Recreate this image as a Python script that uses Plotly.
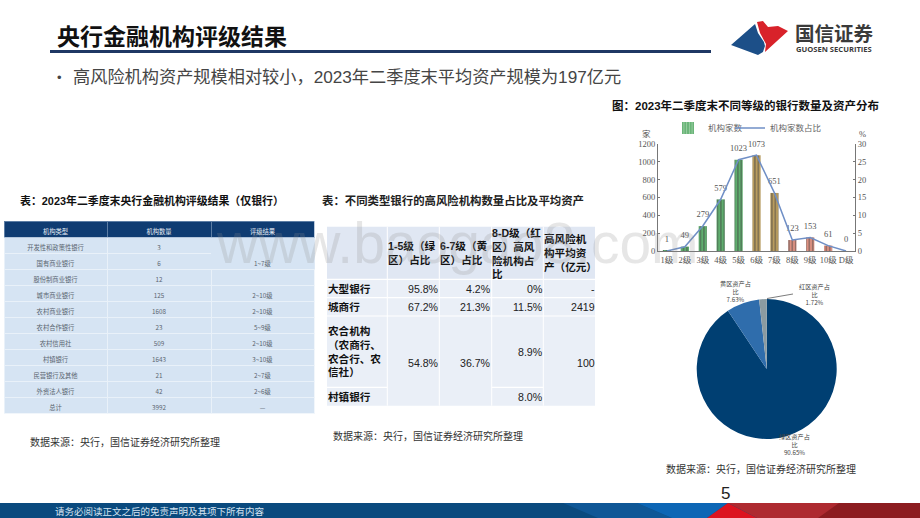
#%% Import libraries needed
import plotly.graph_objects as go

#%% Data
grades = ['1级', '2级', '3级', '4级', '5级', '6级', '7级', '8级', '9级', '10级', 'D级']
bank_counts = [1, 49, 279, 579, 1023, 1073, 651, 123, 153, 61, 0]
bank_share = [0.0, 1.2, 7.0, 14.5, 25.6, 26.9, 16.3, 3.1, 3.8, 1.5, 0.0]
bar_colors = ['#5fae6e'] * 5 + ['#b99c5e'] * 2 + ['#dc9080'] * 4
bar_stripes = ['#d6f0d6'] * 5 + ['#efe0be'] * 2 + ['#f8dcd4'] * 4

pie_labels = ['绿区资产占比', '黄区资产占比', '红区资产占比']
pie_values = [90.65, 7.63, 1.72]
pie_colors = ['#003f72', '#2f6dac', '#8b9ba1']

t1_header = ['机构类型', '机构数量', '评级结果']
t1_types = ['开发性和政策性银行', '国有商业银行', '股份制商业银行', '城市商业银行', '农村商业银行',
            '农村合作银行', '农村信用社', '村镇银行', '民营银行及其他', '外资法人银行', '总计']
t1_counts = [3, 6, 12, 125, 1608, 23, 509, 1643, 21, 42, 3992]
t1_grades = ['', '1~7级', '', '2~10级', '2~10级', '5~9级', '2~10级', '3~10级', '2~7级', '2~6级', '—']

t2_header = ['', '1-5级（绿<br>区）占比', '6-7级（黄<br>区）占比', '8-D级（红<br>区）高风<br>险机构占<br>比',
             '高风险机<br>构平均资<br>产（亿元）']
t2_names = ['大型银行', '城商行', '农合机构<br>（农商行、<br>农合行、农<br>信社）', '村镇银行']
t2_green = ['95.8%', '67.2%', '54.8%']
t2_yellow = ['4.2%', '21.3%', '36.7%']
t2_red = ['0%', '11.5%', '8.9%', '8.0%']
t2_avg = ['-', '2419', '100']
t2_col_edges = [327, 387.3, 439.3, 491.7, 543.3, 595]
t2_row_edges = [226.7, 279.3, 297.7, 316, 387.3, 405.7]

FONT = 'Liberation Sans, Noto Sans CJK SC'
CJK = 'Noto Sans CJK SC'
SERIF = 'Liberation Serif, Noto Sans CJK SC'


def px(x):
    return x / 920


def py(y):
    return 1 - y / 518


def note(x, y, text, size=10, color='#333333', bold=False, anchor='left', family=FONT, **kw):
    if bold:
        text = f'<b>{text}</b>'
    # annotations carry about 2px of padding, take it back
    x = x - 2 if anchor == 'left' else x + 2 if anchor == 'right' else x
    annotations.append(dict(x=px(x), y=py(y), xref='paper', yref='paper', text=text, showarrow=False,
                            xanchor=anchor, yanchor='middle', align=anchor,
                            font=dict(size=size, color=color, family=family), **kw))


def box(x0, y0, x1, y1, color, line=None):
    shapes.append(dict(type='rect', xref='paper', yref='paper', x0=px(x0), x1=px(x1), y0=py(y0), y1=py(y1),
                       fillcolor=color, line=dict(width=0 if line is None else 1, color=line), layer='below'))


def poly(points, color):
    d = 'M' + ' L'.join(f'{px(x):.4f},{py(y):.4f}' for x, y in points) + ' Z'
    shapes.append(dict(type='path', xref='paper', yref='paper', path=d, fillcolor=color, line=dict(width=0), layer='below'))


annotations = []
shapes = []

#%% Figure and bar + line chart
fig = go.Figure()
fig.add_trace(go.Bar(x=grades, y=bank_counts, name='机构家数', width=0.46,
                     marker=dict(color=bar_colors, line=dict(width=0),
                                 pattern=dict(shape='|', size=3.4, solidity=0.45, fgcolor=bar_stripes,
                                              fillmode='overlay'))))
fig.add_trace(go.Scatter(x=grades, y=bank_share, name='机构家数占比', mode='lines', yaxis='y2', legend='legend2',
                         line=dict(color='#6f8fc6', width=1.5), cliponaxis=False))
# value labels sit a bit above the bars, an invisible marker gives that gap
fig.add_trace(go.Scatter(x=grades, y=bank_counts, mode='markers+text', showlegend=False, cliponaxis=False,
                         marker=dict(size=9, opacity=0), text=bank_counts, textposition='top center',
                         textfont=dict(size=8.5, color='#555555', family=SERIF)))

#%% Pie
fig.add_trace(go.Pie(labels=pie_labels, values=pie_values, sort=False, direction='clockwise', rotation=0,
                     marker=dict(colors=pie_colors, line=dict(width=0)), textinfo='none', showlegend=False,
                     domain=dict(x=[px(696.7), px(836.7)], y=[py(439), py(299)])))

#%% Table 1 (merged 1~7级 cell faked by hiding the row lines in that column)
cell_fill = '#d6e4f3'
third_lines = [cell_fill, cell_fill] + ['#eef4fa'] * 9
first_lines = ['#eef4fa'] * 11
fig.add_trace(go.Table(
    domain=dict(x=[px(4), px(314)], y=[py(415), py(221)]),
    columnwidth=[103, 104, 103],
    header=dict(values=t1_header, height=16, fill_color='#0f3c72', align='center',
                line=dict(color='#8fa8c6', width=0.6), font=dict(size=6.3, color='#e8eef5', family=CJK)),
    cells=dict(values=[t1_types, t1_counts, t1_grades], height=16, fill_color=cell_fill, align='center',
               line=dict(color=[first_lines, first_lines, third_lines], width=0.8),
               font=dict(size=6.3, color='#5a6470', family=CJK))))

#%% Table 2 drawn by hand because of the merged cells
xs, ys = t2_col_edges, t2_row_edges
box(xs[0], ys[0], xs[5], ys[1], '#e0e7f3')
box(xs[0], ys[1], xs[5], ys[5], '#eaeff7')
for c in range(1, 5):
    shapes.append(dict(type='line', xref='paper', yref='paper', x0=px(xs[c]), x1=px(xs[c]),
                       y0=py(ys[0]), y1=py(ys[5]), line=dict(color='white', width=1), layer='below'))
for r in range(1, 4):
    shapes.append(dict(type='line', xref='paper', yref='paper', x0=px(xs[0]), x1=px(xs[5]),
                       y0=py(ys[r]), y1=py(ys[r]), line=dict(color='white', width=1.2), layer='below'))
# the last row line only runs where the cells are not merged
for c in [0, 3]:
    shapes.append(dict(type='line', xref='paper', yref='paper', x0=px(xs[c]), x1=px(xs[c + 1]),
                       y0=py(ys[4]), y1=py(ys[4]), line=dict(color='white', width=1.2), layer='below'))

for c in range(1, 5):
    note(xs[c] + 0.5, (ys[0] + ys[1]) / 2, t2_header[c], size=10.6, color='#111111', bold=True)
for r, name in enumerate(t2_names):
    note(xs[0] + 0.5, (ys[r + 1] + ys[r + 2]) / 2, name, size=10.6, color='#111111', bold=True)
for col, values in enumerate([t2_green, t2_yellow]):
    for r, val in enumerate(values):
        note(xs[col + 2] - 0.5, (ys[r + 1] + ys[r + 2]) / 2 if r < 2 else 362.5, val, size=10.6, color='#222222', anchor='right')
for r, val in enumerate(t2_red):
    note(xs[4] - 0.5, (ys[r + 1] + ys[r + 2]) / 2 if r != 2 else 352, val, size=10.6, color='#222222', anchor='right')
for r, val in enumerate(t2_avg):
    note(xs[5], (ys[r + 1] + ys[r + 2]) / 2 if r < 2 else 362.5, val, size=10.6, color='#222222', anchor='right')

#%% Header, bullet, captions, sources
note(57, 35, '央行金融机构评级结果', size=23, color='#111111', bold=True, family=CJK)
box(50, 50, 711, 53, '#1f3864')
note(57, 77, '•', size=13, color='#444444')
note(73, 77, '高风险机构资产规模相对较小，2023年二季度末平均资产规模为197亿元', size=17.2, color='#454545')

note(20, 200, '表：2023年二季度末央行金融机构评级结果（仅银行）', size=10.9, color='#111111', bold=True)
note(322, 200, '表：不同类型银行的高风险机构数量占比及平均资产', size=11.4, color='#222222', bold=True)
note(612, 105, '图：2023年二季度末不同等级的银行数量及资产分布', size=11.5, color='#111111', bold=True)
note(30, 442, '数据来源：央行，国信证券经济研究所整理', size=10, color='#333333')
note(333, 436, '数据来源：央行，国信证券经济研究所整理', size=10, color='#333333')
note(666, 469, '数据来源：央行，国信证券经济研究所整理', size=10, color='#333333')

#%% Labels around the charts
note(646, 134, '家', size=8.5, color='#555555', anchor='center', family=SERIF)
note(862, 134, '%', size=8.5, color='#555555', anchor='center', family=SERIF)
note(735, 291, f'{pie_labels[1][:5]}<br>{pie_labels[1][5:]}<br>{pie_values[1]}%', size=6.2, color='#444444', anchor='center', family=CJK)
note(814, 294, f'{pie_labels[2][:5]}<br>{pie_labels[2][5:]}<br>{pie_values[2]}%', size=6.2, color='#444444', anchor='center', family=CJK)
note(794, 444, f'{pie_labels[0][:5]}<br>{pie_labels[0][5:]}<br>{pie_values[0]}%', size=6.2, color='#444444', anchor='center', family=CJK)
shapes.append(dict(type='line', xref='paper', yref='paper', x0=px(767), x1=px(793), y0=py(298.5), y1=py(294),
                   line=dict(color='#444444', width=0.7)))

#%% Logo
poly([(731, 45), (755, 24), (758, 33), (764, 42), (765, 46), (763, 52), (758, 55)], '#1c4f88')
poly([(757, 22), (763, 21), (768, 27), (778, 26), (788, 31), (765, 52), (766, 44), (760, 33)], '#d8222a')
note(795, 33, '国信证券', size=19.5, color='#3a3a3a', bold=True, family=CJK)
note(795.5, 49.5, 'GUOSEN SECURITIES', size=7.6, color='#3a3a3a', bold=True, family='Open Sans')

#%% Footer band
box(0, 503, 920, 518, '#0a4a7e')
poly([(563, 503), (637, 503), (672, 518), (598, 518)], '#0f5796')
poly([(637, 503), (728, 503), (707, 518), (672, 518)], '#0d66b5')
poly([(728, 503), (757, 518), (707, 518)], '#dc1420')
poly([(728, 503), (920, 503), (920, 518), (757, 518)], '#ae2a30')
poly([(839, 503), (920, 503), (920, 518), (818, 518)], '#8c1c20')
note(55, 510.5, '请务必阅读正文之后的免责声明及其项下所有内容', size=9.5, color='#d5e3f0', family=CJK)
note(725, 493, '5', size=17, color='#222222', anchor='center')

# faint site watermark across the middle
note(457, 243, 'www.baogao8.com', size=57, color='rgba(140,140,140,0.22)', anchor='center', family='Liberation Sans')

#%% Formatting
axis_font = dict(size=8.5, color='#555555', family=SERIF)
legend_font = dict(size=8.5, color='#666666', family=SERIF)
fig.update_layout(
    width=920, height=518, autosize=False, margin=dict(l=0, r=0, t=0, b=0),
    paper_bgcolor='white', plot_bgcolor='white', bargap=0.5,
    xaxis=dict(domain=[px(658), px(855)], range=[-0.5, 10.5], type='category', categoryorder='array', categoryarray=grades,
               showgrid=False, zeroline=False, showline=True, linecolor='#777777', linewidth=1, ticks='',
               tickangle=0, tickfont=axis_font, ticklabelstandoff=1, automargin=False),
    yaxis=dict(domain=[py(251), py(144)], range=[0, 1200], tickvals=list(range(0, 1201, 200)), showgrid=False,
               zeroline=False, showline=True, linecolor='#777777', linewidth=1, ticks='inside', ticklen=2,
               tickcolor='#777777', tickfont=axis_font, automargin=False),
    yaxis2=dict(overlaying='y', side='right', range=[0, 30], tickvals=list(range(0, 31, 5)), showgrid=False,
                zeroline=False, showline=True, linecolor='#777777', linewidth=1, ticks='inside', ticklen=2,
                tickcolor='#777777', tickfont=axis_font, anchor='x', automargin=False),
    legend=dict(orientation='h', x=px(668), y=py(128), xanchor='left', yanchor='middle', bgcolor='rgba(0,0,0,0)',
                font=legend_font, itemwidth=30),
    legend2=dict(orientation='h', x=px(730), y=py(128), xanchor='left', yanchor='middle', bgcolor='rgba(0,0,0,0)',
                 font=legend_font, itemwidth=30),
    shapes=shapes, annotations=annotations,
)

# page margin would push the slide off the window
fig.write_html('out.html', config={'displayModeBar': False}, post_script="document.body.style.margin='0';")
